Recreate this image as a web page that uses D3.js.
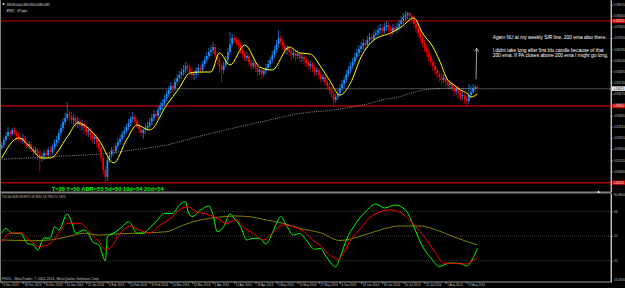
<!DOCTYPE html>
<html>
<head>
<meta charset="utf-8">
<script src="https://cdn.jsdelivr.net/npm/d3@7"></script>
<style>
    body { margin: 0; background: #000; overflow: hidden; }
    svg { display: block; font-family: "Liberation Sans", Arial, sans-serif; }
</style>
</head>
<body>
<svg width="625" height="288"></svg>
<script>
// ---- данные: NZDUSD Daily, 4 Dec 2013 .. Aug 2014 ----
let opens = [
0.8185,0.8200,0.8225,0.8245,0.8265,0.8255,0.8275,0.8260,0.8245,0.8235,
0.8225,0.8235,0.8210,0.8195,0.8205,0.8180,0.8165,0.8175,0.8155,0.8135,
0.8145,0.8160,0.8150,0.8175,0.8165,0.8190,0.8210,0.8225,0.8260,0.8285,
0.8315,0.8335,0.8355,0.8345,0.8325,0.8335,0.8310,0.8320,0.8295,0.8305,
0.8285,0.8265,0.8275,0.8250,0.8230,0.8240,0.8210,0.8185,0.8135,0.8075,
0.8040,0.8125,0.8150,0.8175,0.8170,0.8195,0.8215,0.8230,0.8255,0.8270,
0.8290,0.8310,0.8330,0.8340,0.8320,0.8300,0.8280,0.8260,0.8275,0.8285,
0.8295,0.8315,0.8335,0.8355,0.8345,0.8375,0.8395,0.8410,0.8430,0.8455,
0.8475,0.8495,0.8485,0.8515,0.8535,0.8550,0.8565,0.8575,0.8595,0.8585,
0.8565,0.8550,0.8555,0.8570,0.8585,0.8575,0.8605,0.8625,0.8645,0.8665,
0.8675,0.8690,0.8650,0.8625,0.8595,0.8575,0.8600,0.8625,0.8665,0.8705,
0.8735,0.8725,0.8715,0.8700,0.8675,0.8655,0.8635,0.8645,0.8615,0.8595,
0.8610,0.8585,0.8565,0.8575,0.8555,0.8570,0.8585,0.8605,0.8625,0.8650,
0.8675,0.8705,0.8735,0.8715,0.8695,0.8675,0.8685,0.8665,0.8650,0.8660,
0.8645,0.8655,0.8635,0.8640,0.8625,0.8610,0.8595,0.8605,0.8585,0.8565,
0.8575,0.8550,0.8530,0.8540,0.8515,0.8495,0.8475,0.8455,0.8425,0.8440,
0.8460,0.8485,0.8505,0.8525,0.8555,0.8575,0.8595,0.8615,0.8640,0.8660,
0.8680,0.8695,0.8710,0.8700,0.8725,0.8740,0.8730,0.8750,0.8760,0.8775,
0.8785,0.8770,0.8790,0.8800,0.8780,0.8770,0.8785,0.8775,0.8790,0.8805,
0.8825,0.8840,0.8850,0.8860,0.8845,0.8830,0.8805,0.8785,0.8760,0.8735,
0.8710,0.8685,0.8665,0.8640,0.8615,0.8595,0.8575,0.8555,0.8540,0.8525,
0.8535,0.8515,0.8500,0.8505,0.8485,0.8470,0.8480,0.8460,0.8445,0.8450,
0.8430,0.8420,0.8450,0.8465,0.8482,0.8490];

let highs = [
0.8215,0.8240,0.8265,0.8290,0.8275,0.8285,0.8290,0.8270,0.8260,0.8250,
0.8255,0.8245,0.8225,0.8220,0.8215,0.8195,0.8190,0.8185,0.8170,0.8160,
0.8175,0.8180,0.8190,0.8195,0.8205,0.8230,0.8245,0.8275,0.8305,0.8335,
0.8360,0.8415,0.8375,0.8365,0.8355,0.8350,0.8340,0.8335,0.8325,0.8320,
0.8300,0.8290,0.8285,0.8265,0.8260,0.8255,0.8225,0.8200,0.8150,0.8095,
0.8140,0.8165,0.8190,0.8195,0.8210,0.8235,0.8250,0.8270,0.8290,0.8305,
0.8330,0.8345,0.8365,0.8355,0.8335,0.8315,0.8295,0.8290,0.8305,0.8315,
0.8335,0.8355,0.8375,0.8370,0.8395,0.8415,0.8430,0.8450,0.8475,0.8495,
0.8515,0.8510,0.8535,0.8555,0.8570,0.8585,0.8600,0.8615,0.8610,0.8600,
0.8580,0.8575,0.8590,0.8605,0.8600,0.8620,0.8645,0.8665,0.8685,0.8700,
0.8715,0.8705,0.8665,0.8640,0.8610,0.8620,0.8645,0.8685,0.8765,0.8755,
0.8750,0.8740,0.8730,0.8715,0.8690,0.8670,0.8665,0.8655,0.8630,0.8625,
0.8620,0.8600,0.8590,0.8585,0.8585,0.8605,0.8625,0.8640,0.8670,0.8695,
0.8725,0.8775,0.8750,0.8730,0.8710,0.8700,0.8695,0.8680,0.8675,0.8670,
0.8675,0.8665,0.8655,0.8655,0.8640,0.8625,0.8620,0.8615,0.8600,0.8590,
0.8585,0.8565,0.8555,0.8550,0.8530,0.8510,0.8490,0.8470,0.8455,0.8480,
0.8505,0.8525,0.8545,0.8575,0.8595,0.8615,0.8635,0.8660,0.8680,0.8700,
0.8715,0.8730,0.8725,0.8745,0.8760,0.8755,0.8770,0.8780,0.8795,0.8805,
0.8800,0.8810,0.8820,0.8815,0.8795,0.8805,0.8800,0.8810,0.8825,0.8845,
0.8860,0.8870,0.8865,0.8865,0.8855,0.8845,0.8820,0.8795,0.8775,0.8750,
0.8725,0.8700,0.8680,0.8655,0.8630,0.8610,0.8590,0.8570,0.8560,0.8555,
0.8550,0.8530,0.8525,0.8520,0.8500,0.8495,0.8495,0.8475,0.8465,0.8460,
0.8445,0.8505,0.8495,0.8505,0.8498,0.8500];

let lows = [
0.8175,0.8185,0.8215,0.8240,0.8235,0.8245,0.8250,0.8225,0.8220,0.8210,
0.8205,0.8195,0.8180,0.8175,0.8165,0.8145,0.8150,0.8125,0.8065,0.8115,
0.8125,0.8130,0.8135,0.8145,0.8150,0.8175,0.8195,0.8210,0.8245,0.8270,
0.8300,0.8320,0.8320,0.8305,0.8300,0.8290,0.8285,0.8275,0.8270,0.8255,
0.8245,0.8240,0.8225,0.8210,0.8205,0.8190,0.8165,0.8115,0.8050,0.8010,
0.8020,0.8110,0.8135,0.8145,0.8155,0.8180,0.8200,0.8215,0.8240,0.8255,
0.8275,0.8295,0.8315,0.8305,0.8285,0.8260,0.8240,0.8230,0.8255,0.8270,
0.8280,0.8300,0.8320,0.8325,0.8330,0.8360,0.8375,0.8395,0.8415,0.8440,
0.8460,0.8465,0.8470,0.8500,0.8515,0.8530,0.8545,0.8560,0.8565,0.8545,
0.8530,0.8525,0.8535,0.8550,0.8555,0.8560,0.8590,0.8610,0.8630,0.8645,
0.8655,0.8630,0.8605,0.8560,0.8515,0.8555,0.8585,0.8610,0.8650,0.8690,
0.8705,0.8695,0.8680,0.8655,0.8635,0.8615,0.8620,0.8595,0.8575,0.8580,
0.8565,0.8545,0.8550,0.8530,0.8540,0.8555,0.8570,0.8590,0.8610,0.8635,
0.8660,0.8690,0.8695,0.8675,0.8655,0.8650,0.8645,0.8625,0.8635,0.8620,
0.8630,0.8615,0.8615,0.8600,0.8590,0.8575,0.8580,0.8565,0.8545,0.8550,
0.8530,0.8510,0.8515,0.8495,0.8475,0.8455,0.8435,0.8400,0.8410,0.8425,
0.8445,0.8470,0.8485,0.8510,0.8540,0.8560,0.8580,0.8600,0.8625,0.8645,
0.8665,0.8675,0.8680,0.8685,0.8705,0.8710,0.8715,0.8735,0.8745,0.8755,
0.8750,0.8755,0.8770,0.8760,0.8745,0.8750,0.8755,0.8760,0.8770,0.8790,
0.8805,0.8820,0.8830,0.8820,0.8805,0.8785,0.8760,0.8740,0.8715,0.8690,
0.8665,0.8640,0.8620,0.8595,0.8570,0.8550,0.8535,0.8515,0.8505,0.8510,
0.8490,0.8480,0.8480,0.8465,0.8445,0.8450,0.8435,0.8420,0.8425,0.8405,
0.8395,0.8405,0.8435,0.8455,0.8468,0.8480];

let closes = [
0.8200,0.8225,0.8245,0.8265,0.8255,0.8275,0.8260,0.8245,0.8235,0.8225,
0.8235,0.8210,0.8195,0.8205,0.8180,0.8165,0.8175,0.8155,0.8135,0.8145,
0.8160,0.8150,0.8175,0.8165,0.8190,0.8210,0.8225,0.8260,0.8285,0.8315,
0.8335,0.8355,0.8345,0.8325,0.8335,0.8310,0.8320,0.8295,0.8305,0.8285,
0.8265,0.8275,0.8250,0.8230,0.8240,0.8210,0.8185,0.8135,0.8075,0.8040,
0.8125,0.8150,0.8175,0.8170,0.8195,0.8215,0.8230,0.8255,0.8270,0.8290,
0.8310,0.8330,0.8340,0.8320,0.8300,0.8280,0.8260,0.8275,0.8285,0.8295,
0.8315,0.8335,0.8355,0.8345,0.8375,0.8395,0.8410,0.8430,0.8455,0.8475,
0.8495,0.8485,0.8515,0.8535,0.8550,0.8565,0.8575,0.8595,0.8585,0.8565,
0.8550,0.8555,0.8570,0.8585,0.8575,0.8605,0.8625,0.8645,0.8665,0.8675,
0.8690,0.8650,0.8625,0.8595,0.8575,0.8600,0.8625,0.8665,0.8705,0.8735,
0.8725,0.8715,0.8700,0.8675,0.8655,0.8635,0.8645,0.8615,0.8595,0.8610,
0.8585,0.8565,0.8575,0.8555,0.8570,0.8585,0.8605,0.8625,0.8650,0.8675,
0.8705,0.8735,0.8715,0.8695,0.8675,0.8685,0.8665,0.8650,0.8660,0.8645,
0.8655,0.8635,0.8640,0.8625,0.8610,0.8595,0.8605,0.8585,0.8565,0.8575,
0.8550,0.8530,0.8540,0.8515,0.8495,0.8475,0.8455,0.8425,0.8440,0.8460,
0.8485,0.8505,0.8525,0.8555,0.8575,0.8595,0.8615,0.8640,0.8660,0.8680,
0.8695,0.8710,0.8700,0.8725,0.8740,0.8730,0.8750,0.8760,0.8775,0.8785,
0.8770,0.8790,0.8800,0.8780,0.8770,0.8785,0.8775,0.8790,0.8805,0.8825,
0.8840,0.8850,0.8860,0.8845,0.8830,0.8805,0.8785,0.8760,0.8735,0.8710,
0.8685,0.8665,0.8640,0.8615,0.8595,0.8575,0.8555,0.8540,0.8525,0.8535,
0.8515,0.8500,0.8505,0.8485,0.8470,0.8480,0.8460,0.8445,0.8450,0.8430,
0.8420,0.8450,0.8465,0.8482,0.8490,0.8482];

// жёлтая быстрая EMA, [бар, цена]
let emaFast = [[0,0.8135],[8,0.8235],[13,0.8195],[19,0.8135],[23,0.8135],[31,0.8240],[36,0.8310],
    [46,0.8225],[53,0.8110],[59,0.8225],[64,0.8300],[70,0.8275],[78,0.8400],[84,0.8485],[89,0.8560],
    [94,0.8565],[99,0.8565],[103,0.8660],[108,0.8600],[115,0.8700],[122,0.8590],[128,0.8575],
    [136,0.8690],[141,0.8660],[146,0.8655],[151,0.8590],[155,0.8525],[160,0.8450],[165,0.8510],
    [170,0.8640],[176,0.8725],[184,0.8760],[189,0.8790],[195,0.8835],[199,0.8760],[204,0.8690],
    [207,0.8625],[211,0.8525],[214,0.8500],[217,0.8475],[220,0.8460],[222,0.8440],[225,0.8455]];

// 200 EMA (пунктир)
let ema200 = [[0,0.8129],[15,0.8136],[31,0.8146],[47,0.8155],[62,0.8175],[78,0.8200],[94,0.8245],
    [109,0.8283],[125,0.8321],[141,0.8358],[157,0.8375],[166,0.8391],[173,0.8405],[180,0.8425],
    [188,0.8441],[196,0.8466],[201,0.8478],[209,0.8483],[225,0.8483]];

// TDI: зелёная (RSI), красная (сигнальная), оливковая (базовая)
let tdiPrice = [[0,52.0],[2,55.6],[5,52.0],[9,52.0],[12,44.7],[15,43.4],[17,39.8],[20,48.5],[23,48.5],
    [25,56.8],[27,54.4],[31,66.0],[33,60.4],[35,52.0],[39,54.4],[41,52.0],[43,45.8],[46,43.4],[49,32.0],
    [50,49.5],[54,53.1],[57,56.8],[60,60.4],[61,59.3],[64,52.0],[67,52.0],[69,54.4],[73,60.4],[77,66.5],
    [81,66.5],[84,72.6],[87,75.0],[88,68.9],[90,64.1],[94,68.9],[98,71.9],[100,65.3],[102,53.1],[105,56.8],
    [108,66.0],[110,62.9],[113,56.8],[116,47.1],[119,48.3],[122,48.3],[125,44.2],[128,52.0],[130,59.3],
    [132,64.1],[135,56.8],[138,50.7],[141,52.0],[144,47.1],[148,40.3],[151,41.0],[153,36.2],[158,27.6],
    [160,34.0],[163,47.1],[167,58.0],[172,67.5],[177,73.3],[181,70.4],[186,72.6],[191,69.0],[196,52.9],
    [198,45.6],[203,34.0],[207,27.8],[212,30.3],[217,30.0],[220,28.1],[223,34.0],[225,41.0]];

let tdiSignal = [[0,45.8],[4,52.0],[9,52.4],[13,47.1],[18,42.2],[23,44.7],[28,54.4],[31,59.3],[37,59.3],
    [42,52.0],[46,45.8],[49,40.3],[51,41.0],[56,52.0],[61,57.3],[65,54.4],[70,52.4],[75,58.0],[80,62.9],
    [84,69.0],[88,71.4],[92,67.7],[97,66.0],[102,62.9],[106,59.3],[111,61.7],[114,56.8],[119,52.0],
    [124,47.1],[128,52.0],[133,58.0],[138,56.8],[144,52.0],[147,47.1],[151,42.7],[155,36.2],[159,33.2],
    [162,38.3],[165,47.1],[170,55.8],[174,63.1],[179,67.5],[184,69.0],[188,67.5],[193,61.7],[198,52.9],
    [201,47.1],[205,38.3],[209,30.3],[214,30.0],[220,29.6],[223,32.5],[225,34.0]];

let tdiBase = [[0,47.1],[15,46.6],[23,47.1],[31,49.5],[39,52.0],[46,50.7],[54,51.5],[62,52.0],[70,52.4],
    [78,53.1],[86,58.0],[94,61.7],[102,63.6],[110,64.6],[117,64.1],[125,61.7],[133,59.3],[141,55.6],
    [151,52.2],[160,46.7],[170,50.0],[179,54.4],[188,57.3],[198,57.3],[207,53.6],[214,49.3],[225,43.5]];

let tdiLevels = [32, 50, 68];

let priceTicks = [0.89015,0.88460,0.87905,0.87350,0.86795,0.86240,0.85685,0.85130,0.84575,
    0.84020,0.83465,0.82910,0.82355,0.81800,0.81245,0.80690,0.80135];

let timeTickBars = [0,10,20,30,40,50,60,70,80,90,100,110,120,130,140,150,160,170,180,190,200,210,220];
let timeLabels = ["4 Dec 2013","18 Dec 2013","30 Dec 2013","10 Jan 2014","22 Jan 2014","4 Feb 2014",
    "14 Feb 2014","26 Feb 2014","10 Mar 2014","20 Mar 2014","1 Apr 2014","11 Apr 2014","23 Apr 2014",
    "5 May 2014","15 May 2014","27 May 2014","6 Jun 2014","18 Jun 2014","30 Jun 2014","10 Jul 2014",
    "22 Jul 2014","1 Aug 2014","13 Aug 2014"];

let srLevels = [0.8820, 0.8395, 0.80115];   // горизонтальные уровни
let lastPrice = 0.8482;


function drawChart() {
    let width = 625, height = 288;
    let plotRight = 611;
    let mainBottom = 191.5, indTop = 193.5, indBottom = 282;
    let blue = "#1e90ff", red = "#ff0000", axisColor = "#c0c0c0";

    let svg = d3.select("svg");
    svg.selectAll("*").remove();
    svg.append("rect").attr("width", width).attr("height", height).attr("fill", "#000");

    // шкалы
    let x = d3.scaleLinear().domain([0, 225]).range([1.7, 1.7 + 225 * 2.114]);
    let yPrice = d3.scaleLinear().domain([0.79675, 0.8925]).range([mainBottom, 0]);
    let yTdi = d3.scaleLinear().domain([16.47, 80.98]).range([indBottom, indTop]);

    let defs = svg.append("defs");
    defs.append("clipPath").attr("id", "clipMain").append("rect")
        .attr("x", 0).attr("y", 0).attr("width", plotRight).attr("height", mainBottom);
    defs.append("clipPath").attr("id", "clipInd").append("rect")
        .attr("x", 0).attr("y", indTop).attr("width", plotRight).attr("height", indBottom - indTop);

    let main = svg.append("g").attr("clip-path", "url(#clipMain)");
    let ind = svg.append("g").attr("clip-path", "url(#clipInd)");

    // линия bid
    main.append("line")
        .attr("x1", 0).attr("x2", plotRight)
        .attr("y1", yPrice(lastPrice)).attr("y2", yPrice(lastPrice))
        .attr("stroke", "#3c3c3c").attr("stroke-width", 1.2);

    // горизонтальные уровни
    main.selectAll(".sr").data(srLevels).enter().append("line")
        .attr("x1", 0).attr("x2", plotRight)
        .attr("y1", d => yPrice(d)).attr("y2", d => yPrice(d))
        .attr("stroke", (d, i) => i == 0 ? "#c80000" : "#a80000")
        .attr("stroke-width", (d, i) => i == 0 ? 1 : 1.6);

    // 200 EMA
    let line = d3.line().x(d => x(d[0])).curve(d3.curveMonotoneX);
    main.append("path").datum(ema200)
        .attr("d", line.y(d => yPrice(d[1])))
        .attr("fill", "none").attr("stroke", "#b0b0b0")
        .attr("stroke-width", 0.8).attr("stroke-dasharray", "1,1.2");

    // свечи
    let candles = d3.range(closes.length).map(i => ({i: i, o: opens[i], h: highs[i], l: lows[i], c: closes[i]}));
    main.selectAll(".wick").data(candles).enter().append("line")
        .attr("x1", d => x(d.i)).attr("x2", d => x(d.i))
        .attr("y1", d => yPrice(d.h)).attr("y2", d => yPrice(d.l))
        .attr("stroke", d => d.c >= d.o ? blue : red)
        .attr("stroke-width", 0.7);
    main.selectAll(".body").data(candles).enter().append("rect")
        .attr("x", d => x(d.i) - 0.85).attr("width", 1.7)
        .attr("y", d => yPrice(Math.max(d.o, d.c)))
        .attr("height", d => Math.max(0.6, Math.abs(yPrice(d.o) - yPrice(d.c))))
        .attr("fill", d => d.c >= d.o ? blue : red);

    // быстрая EMA
    main.append("path").datum(emaFast)
        .attr("d", d3.line().x(d => x(d[0])).y(d => yPrice(d[1])).curve(d3.curveMonotoneX))
        .attr("fill", "none").attr("stroke", "#ffff00").attr("stroke-width", 1);

    // TDI уровни
    ind.selectAll(".lvl").data(tdiLevels).enter().append("line")
        .attr("x1", 0).attr("x2", plotRight)
        .attr("y1", d => yTdi(d)).attr("y2", d => yTdi(d))
        .attr("stroke", "#4a4a4a").attr("stroke-width", 0.8).attr("stroke-dasharray", "1,1");

    let tdiLine = d3.line().x(d => x(d[0])).y(d => yTdi(d[1])).curve(d3.curveMonotoneX);
    [[tdiBase, "#808000"], [tdiPrice, "#00ff00"], [tdiSignal, "#ff0000"]].forEach(s => {
        ind.append("path").datum(s[0]).attr("d", tdiLine)
            .attr("fill", "none").attr("stroke", s[1]).attr("stroke-width", 1);
    });

    // рамки и разделитель
    svg.append("line").attr("x1", 0.5).attr("x2", 0.5).attr("y1", 0).attr("y2", indBottom)
        .attr("stroke", "#808080").attr("stroke-width", 1);
    svg.append("line").attr("x1", 0).attr("x2", plotRight).attr("y1", 192.5).attr("y2", 192.5)
        .attr("stroke", "#808080").attr("stroke-width", 2);
    svg.append("line").attr("x1", 0).attr("x2", plotRight).attr("y1", indBottom).attr("y2", indBottom)
        .attr("stroke", "#a0a0a0").attr("stroke-width", 1);
    svg.append("line").attr("x1", plotRight).attr("x2", plotRight).attr("y1", 0).attr("y2", indBottom)
        .attr("stroke", "#a0a0a0").attr("stroke-width", 1);

    // ось цены
    let axisP = d3.axisRight(yPrice).tickValues(priceTicks)
        .tickFormat(d3.format(".5f")).tickSize(2).tickSizeOuter(0);
    let gP = svg.append("g").attr("transform", `translate(${plotRight}, 0)`).call(axisP);
    styleAxis(gP, axisColor);
    gP.selectAll("text").attr("x", 3);

    // ось TDI
    let axisT = d3.axisRight(yTdi).tickValues(tdiLevels).tickFormat(d3.format("d")).tickSize(2).tickSizeOuter(0);
    let gT = svg.append("g").attr("transform", `translate(${plotRight}, 0)`).call(axisT);
    styleAxis(gT, axisColor);
    gT.selectAll("text").attr("x", 3);
    svg.append("text").attr("x", 614).attr("y", indTop + 2.6).text(d3.format(".4f")(yTdi.domain()[1]))
        .attr("fill", axisColor).style("font-size", "3px");
    svg.append("text").attr("x", 614).attr("y", indBottom - 1.2).text(d3.format(".4f")(yTdi.domain()[0]))
        .attr("fill", axisColor).style("font-size", "3px");

    // ось времени
    let axisX = d3.axisBottom(x).tickValues(timeTickBars)
        .tickFormat((d, i) => timeLabels[i]).tickSize(2).tickSizeOuter(0);
    let gX = svg.append("g").attr("transform", `translate(0, ${indBottom})`).call(axisX);
    styleAxis(gX, axisColor);
    gX.select(".domain").remove();
    gX.selectAll("text").attr("text-anchor", "start").attr("x", 1).attr("y", 4.2).attr("dy", null);

    // метки уровней на шкале
    let labels = svg.append("g");
    srLevels.forEach(v => {
        labels.append("rect").attr("x", plotRight + 1).attr("y", yPrice(v) - 2.2)
            .attr("width", 13).attr("height", 4.4).attr("fill", "#c80000");
        labels.append("text").attr("x", plotRight + 2.5).attr("y", yPrice(v) + 1.1)
            .text(d3.format(".5f")(v)).attr("fill", "#fff").style("font-size", "3px");
    });
    labels.append("rect").attr("x", plotRight + 1).attr("y", yPrice(lastPrice) - 2.2)
        .attr("width", 13).attr("height", 4.4).attr("fill", "#fff");
    labels.append("text").attr("x", plotRight + 2.5).attr("y", yPrice(lastPrice) + 1.1)
        .text(d3.format(".5f")(lastPrice)).attr("fill", "#000").style("font-size", "3px");

    // надписи
    svg.append("rect").attr("x", 2.6).attr("y", 3.2).attr("width", 1.6).attr("height", 1.6).attr("fill", "#fff");
    addText(svg, 6.7, 5.6, "NZDUSD,Daily  0.8490 0.8500 0.8480 0.8482", "#e0e0e0", 3, 43);
    addText(svg, 6.7, 12.3, "ATR(7):", "#e0e0e0", 3, 8);
    addText(svg, 17.3, 12.3, "47 pips", "#e0e0e0", 3, 10);

    addText(svg, 492.7, 39, "Again NU at my weekly S/R line. 200 ema also there.", "#ffffff", 4.6, 114);
    addText(svg, 492.7, 51.5, "I didnt take long after first blu candle because of that", "#ffffff", 4.6, 111);
    addText(svg, 492.7, 56.8, "200 ema. If PA closes above 200 ema I might go long.", "#ffffff", 4.6, 115.5);

    addText(svg, 51.7, 190.6, "T=35   Y=50   ADR=55   5d=50   10d=54   20d=54", "#00ff00", 4.6, 112)
        .style("font-weight", "bold");
    addText(svg, 1.8, 197.6, "TDI 66.0639 49.8975 59.3931 59.7912 57.1871", "#c0c0c0", 2.7, 64);
    addText(svg, 1.8, 280.2, "FXDD - MetaTrader, \u00a9 2001-2014, MetaQuotes Software Corp.", "#c0c0c0", 2.7, 98);

    // стрелка
    svg.append("line").attr("x1", 476).attr("y1", 79.3).attr("x2", 476.7).attr("y2", 48.3)
        .attr("stroke", "#c8c8c8").attr("stroke-width", 0.8);
    svg.append("path").attr("d", "M474.6,51.6 L476.7,48.3 L478.6,51.8")
        .attr("fill", "none").attr("stroke", "#c8c8c8").attr("stroke-width", 0.8);

    // маркер сдвига графика
    svg.append("path").attr("d", "M597,192.8 L600,192.8 L598.5,190.6 Z").attr("fill", "#fff");
}

function styleAxis(g, color) {
    g.selectAll("path").attr("stroke", color).attr("stroke-width", 1);
    g.selectAll("line").attr("stroke", color).attr("stroke-width", 0.6);
    g.selectAll("text").attr("fill", color)
        .style("font-size", "3px").style("font-family", '"Liberation Sans", Arial, sans-serif');
}

function addText(svg, x, y, text, color, size, len) {
    return svg.append("text")
        .attr("x", x).attr("y", y)
        .attr("fill", color)
        .attr("textLength", len).attr("lengthAdjust", "spacingAndGlyphs")
        .style("font-size", size + "px")
        .text(text);
}

drawChart();
</script>
</body>
</html>
